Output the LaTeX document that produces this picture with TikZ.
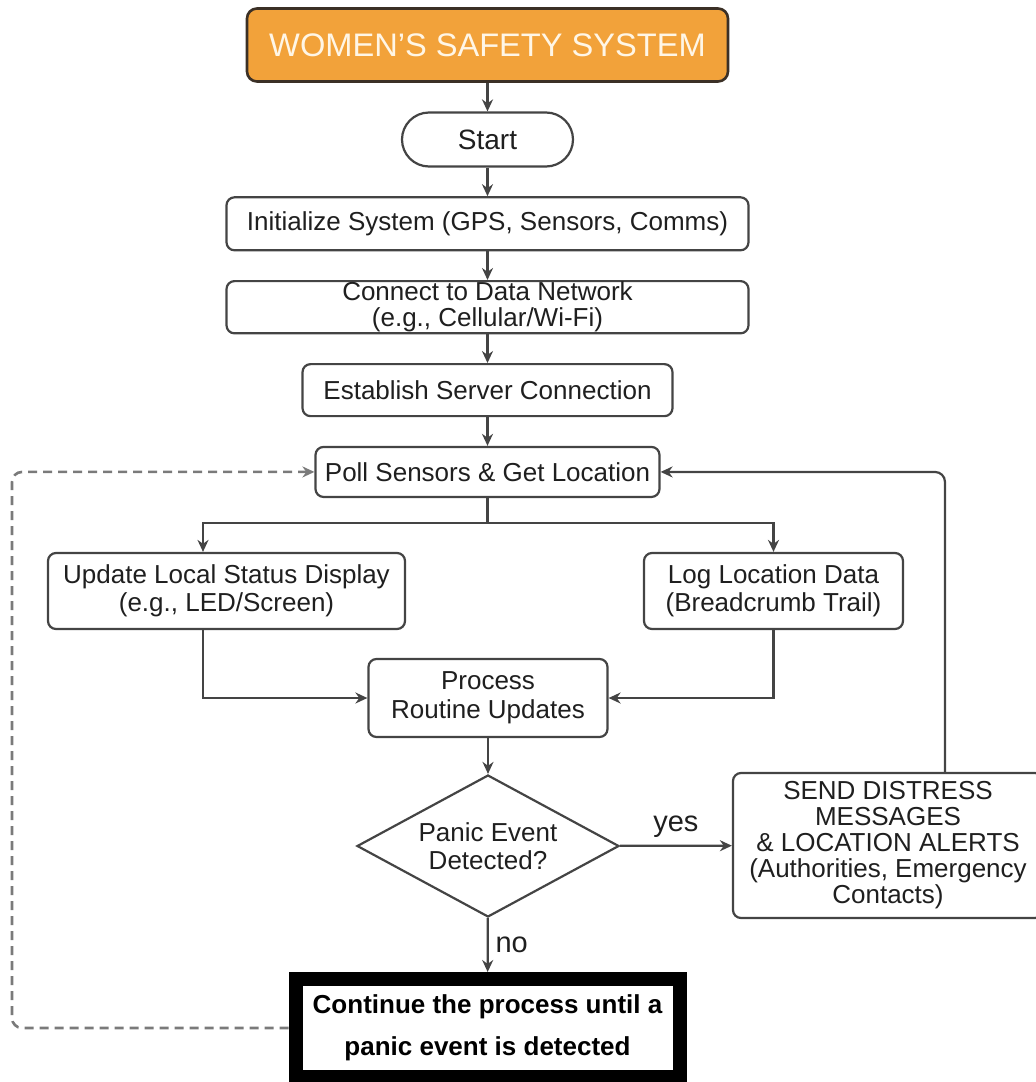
\documentclass[tikz,border=0pt]{standalone}
\usepackage{fontspec}
\setmainfont{Liberation Sans}
\usetikzlibrary{
	positioning, chains, shapes.geometric, arrows.meta
}
\definecolor{boxline}{HTML}{444444}
\definecolor{titlefill}{HTML}{F2A23A}
\definecolor{titleline}{HTML}{3B3026}
\definecolor{titletext}{HTML}{FFF6E6}
\definecolor{dashgray}{HTML}{7A7A7A}
\tikzset{
	>={Stealth[length=6pt, width=5.5pt]},
  stepbox/.style={
    rectangle,
    rounded corners=4pt,
    draw=boxline,
    line width=1.1pt,
    fill=white,
    text=black!88,
    align=center,
    inner ysep=0.5pt,
    font=\fontsize{13pt}{14pt}\selectfont},
  chainbox/.style={stepbox, on chain, join},
  titlebox/.style={
    rectangle,
    rounded corners=5pt,
    draw=titleline,
    line width=1.3pt,
    fill=titlefill,
    text=titletext,
    minimum width=240.5pt,
    minimum height=36.5pt,
    font=\fontsize{16.3pt}{18pt}\selectfont,
    on chain},
  terminal/.style={
    stepbox,
    rounded corners=13.5pt,
    minimum width=85.5pt,
    minimum height=27pt,
    font=\fontsize{14pt}{15pt}\selectfont},
  decision/.style={
    diamond,
    draw=boxline,
    line width=1.1pt,
    text=black!88,
    aspect=1.85,
    minimum width=131pt,
    minimum height=71pt,
    inner sep=0pt,
    align=center,
    font=\fontsize{13pt}{14pt}\selectfont},
  endbox/.style={
    rectangle,
    draw=black,
    line width=7pt,
    minimum width=192pt,
    minimum height=49pt,
    align=center,
    font=\fontsize{13pt}{21pt}\selectfont\bfseries},
  line/.style={draw=boxline, line width=1.1pt, ->},
  loopline/.style={draw=dashgray, line width=1.3pt, dash pattern=on 4.5pt off 3pt, rounded corners=5pt, ->},
  every join/.style={line},
  answer/.style={font=\fontsize{14.5pt}{15pt}\selectfont, text=black!88},
}

\begin{document}
\begin{tikzpicture}[x=0.5pt, y=-0.5pt, node distance=14.3pt, start chain=going below]
	\useasboundingbox (0,0) rectangle (1036,1082);

	% main column
	\node [titlebox] (title) at (487.5,45) {WOMEN'S SAFETY SYSTEM};
	\node [terminal, on chain, join] (start) {Start};
	\node [chainbox, minimum width=261pt, minimum height=26.5pt] (init) {Initialize System (GPS, Sensors, Comms)};
	\node [chainbox, minimum width=261pt, minimum height=26pt, font=\fontsize{13pt}{13pt}\selectfont] (network) {Connect to Data Network\\(e.g., Cellular/Wi-Fi)};
	\node [chainbox, minimum width=185pt, minimum height=26pt] (server) {Establish Server Connection};
	\node [chainbox, minimum width=172pt, minimum height=25pt] (poll) {Poll Sensors \& Get Location};

	% branches
	\node [stepbox, minimum width=178.5pt, minimum height=38pt] (display) at (226.5,591) {Update Local Status Display\\(e.g., LED/Screen)};
	\node [stepbox, minimum width=129.5pt, minimum height=38pt] (log) at (773.5,591) {Log Location Data\\(Breadcrumb Trail)};
	\node [stepbox, minimum width=119.5pt, minimum height=39pt, font=\fontsize{13pt}{14.5pt}\selectfont] (process) at (488,698) {Process\\Routine Updates};
	\node [decision] (panic) at (488,846) {Panic Event\\Detected?};
	\node [stepbox, minimum width=155pt, minimum height=72.5pt, font=\fontsize{13pt}{13pt}\selectfont] (alert) at (888,845.5) {SEND DISTRESS\\MESSAGES\\\& LOCATION ALERTS\\(Authorities, Emergency\\Contacts)};
	\node [endbox] (cont) at (487.5,1028) {Continue the process until a\\panic event is detected};

	\coordinate (split) at (487.5,523);
	\coordinate (edge) at (12,0);

	\draw [line, -] (poll.south) -- (split);
	\draw [line] (split) -| ([xshift=-11.75pt]display.north);
	\draw [line] (split) -| (log.north);
	\draw [line] ([xshift=-11.75pt]display.south) |- (process.west);
	\draw [line] (log.south) |- (process.east);
	\draw [line] (process) -- (panic);
	\draw [line] (panic) -- node[answer, above] {yes} (alert);
	\draw [line] (panic) -- node[answer, right] {no} (cont);
	\draw [line, rounded corners=5pt] ([xshift=28.5pt]alert.north) |- (poll.east);
	\draw [loopline] (cont.west) -| (edge |- poll.west) -- (poll.west);
\end{tikzpicture}
\end{document}
